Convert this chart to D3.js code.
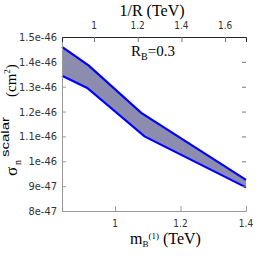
<!DOCTYPE html>
<html>
<head>
<meta charset="utf-8">
<script src="https://cdn.jsdelivr.net/npm/d3@7"></script>
<style>
body { margin: 0; background: #fff; }
</style>
</head>
<body>
<script>
var width = 262;
var height = 262;

var margin = {top: 37, left: 62, right: 16, bottom: 51};

// band edges: m_B1 (TeV) and sigma (units of 1e-47 cm^2)
var upperX = [0.838, 0.92, 1.08, 1.4];
var upperY = [14.6, 13.85, 11.95, 9.25];
var lowerX = [0.838, 0.915, 1.09, 1.4];
var lowerY = [13.44, 12.95, 11.0, 8.95];

var yTicks = [8, 9, 10, 11, 12, 13, 14, 15];
var yTickLabels = ["8e-47", "9e-47", "1e-46", "1.1e-46", "1.2e-46", "1.3e-46", "1.4e-46", "1.5e-46"];
var xTicks = [1, 1.2, 1.4];
var topTicks = [1, 1.2, 1.4, 1.6];

var svg = d3.select("body")
  .append("svg")
  .attr("width", width)
  .attr("height", height);

var xScale = d3.scaleLinear()
  .domain([0.838, 1.4])
  .range([margin.left, width - margin.right]);

var topScale = d3.scaleLinear()
  .domain([0.8535, 1.6957])
  .range([margin.left, width - margin.right]);

var yScale = d3.scaleLinear()
  .domain([8, 15])
  .range([height - margin.bottom, margin.top]);

var tickFont = "'Liberation Sans Narrow', 'DejaVu Sans Condensed', 'Liberation Sans', sans-serif";
var serif = "'Liberation Serif', 'DejaVu Serif', serif";

// band
var band = upperX.map(function(x, i) { return [x, upperY[i]]; })
  .concat(lowerX.map(function(x, i) { return [x, lowerY[i]]; }).reverse());

var edge = d3.line()
  .x(function(d) { return xScale(d[0]); })
  .y(function(d) { return yScale(d[1]); });

svg.append("path")
  .attr("d", edge(band) + "Z")
  .attr("fill", "#8c8cae");

svg.append("path")
  .attr("d", edge(upperX.map(function(x, i) { return [x, upperY[i]]; })))
  .attr("fill", "none").attr("stroke", "#0000ff").attr("stroke-width", 2.2);
svg.append("path")
  .attr("d", edge(lowerX.map(function(x, i) { return [x, lowerY[i]]; })))
  .attr("fill", "none").attr("stroke", "#0000ff").attr("stroke-width", 2.2);

// left axis
var yAxis = svg.append("g")
  .attr("transform", "translate(" + margin.left + ",0)")
  .call(d3.axisRight(yScale).tickValues(yTicks).tickSize(4).tickFormat(""));
yAxis.select(".domain").attr("stroke", "#999");
yAxis.selectAll(".tick line").attr("stroke", "#999");

svg.selectAll(".ylab")
  .data(yTicks)
  .enter()
  .append("text")
  .attr("class", "ylab")
  .attr("x", margin.left - 5)
  .attr("y", function(d) { return yScale(d) + 4; })
  .attr("text-anchor", "end")
  .attr("font-family", tickFont)
  .attr("font-size", 11)
  .attr("fill", "#333")
  .text(function(d, i) { return yTickLabels[i]; });

// right ticks, no line
var rAxis = svg.append("g")
  .attr("transform", "translate(" + (width - margin.right) + ",0)")
  .call(d3.axisLeft(yScale).tickValues(yTicks.slice(1, 7)).tickSize(4).tickFormat(""));
rAxis.select(".domain").remove();
rAxis.selectAll(".tick line").attr("stroke", "#777");

// bottom axis
var xAxis = svg.append("g")
  .attr("transform", "translate(0," + (height - margin.bottom) + ")")
  .call(d3.axisTop(xScale).tickValues(xTicks).tickSize(5).tickFormat(""));
xAxis.select(".domain").attr("stroke", "#999");
xAxis.selectAll(".tick line").attr("stroke", "#999");

svg.selectAll(".xlab")
  .data(xTicks)
  .enter()
  .append("text")
  .attr("class", "xlab")
  .attr("x", function(d) { return xScale(d); })
  .attr("y", height - margin.bottom + 16)
  .attr("text-anchor", "middle")
  .attr("font-family", tickFont)
  .attr("font-size", 10)
  .attr("fill", "#333")
  .text(function(d) { return d3.format("~g")(d); });

// top axis
var tAxis = svg.append("g")
  .attr("transform", "translate(0," + margin.top + ")")
  .call(d3.axisBottom(topScale).tickValues(topTicks).tickSize(5).tickFormat(""));
tAxis.select(".domain").attr("stroke", "#222");
tAxis.selectAll(".tick line").attr("stroke", "#777");

svg.selectAll(".tlab")
  .data(topTicks)
  .enter()
  .append("text")
  .attr("class", "tlab")
  .attr("x", function(d) { return topScale(d); })
  .attr("y", margin.top - 8)
  .attr("text-anchor", "middle")
  .attr("font-family", tickFont)
  .attr("font-size", 10)
  .attr("fill", "#333")
  .text(function(d) { return d3.format("~g")(d); });

// titles
svg.append("text")
  .attr("x", 152)
  .attr("y", 16)
  .attr("text-anchor", "middle")
  .attr("font-family", serif)
  .attr("font-size", 16)
  .text("1/R (TeV)");

var bl = svg.append("text")
  .attr("x", 130)
  .attr("y", 244)
  .attr("font-family", serif)
  .attr("font-size", 16);
bl.append("tspan").text("m");
bl.append("tspan").attr("font-size", 9).attr("dy", 3).text("B");
bl.append("tspan").attr("font-size", 9).attr("dy", -8).text("(1)");
bl.append("tspan").attr("dy", 5).text(" (TeV)");

var rb = svg.append("text")
  .attr("x", 131)
  .attr("y", 56)
  .attr("font-family", serif)
  .attr("font-size", 15);
rb.append("tspan").text("R");
rb.append("tspan").attr("font-size", 10).attr("dy", 4).text("B");
rb.append("tspan").attr("dy", -4).text("=0.3");

var yl = svg.append("text")
  .attr("transform", "translate(17,176) rotate(-90)")
  .attr("font-family", serif)
  .attr("font-size", 17);
yl.append("tspan").attr("x", 0).attr("y", 0).text("σ");
yl.append("tspan").attr("x", 11).attr("y", 4).attr("font-size", 10).text("n");
yl.append("tspan").attr("x", 19).attr("y", -8)
  .attr("font-family", "'Liberation Sans', sans-serif").attr("font-size", 11)
  .attr("textLength", 40).attr("lengthAdjust", "spacingAndGlyphs")
  .text("scalar");
yl.append("tspan").attr("x", 79).attr("y", -1).attr("font-size", 15).text("(cm");
yl.append("tspan").attr("y", -7).attr("font-size", 9).text("2");
yl.append("tspan").attr("y", -1).attr("font-size", 15).text(")");
</script>
</body>
</html>
